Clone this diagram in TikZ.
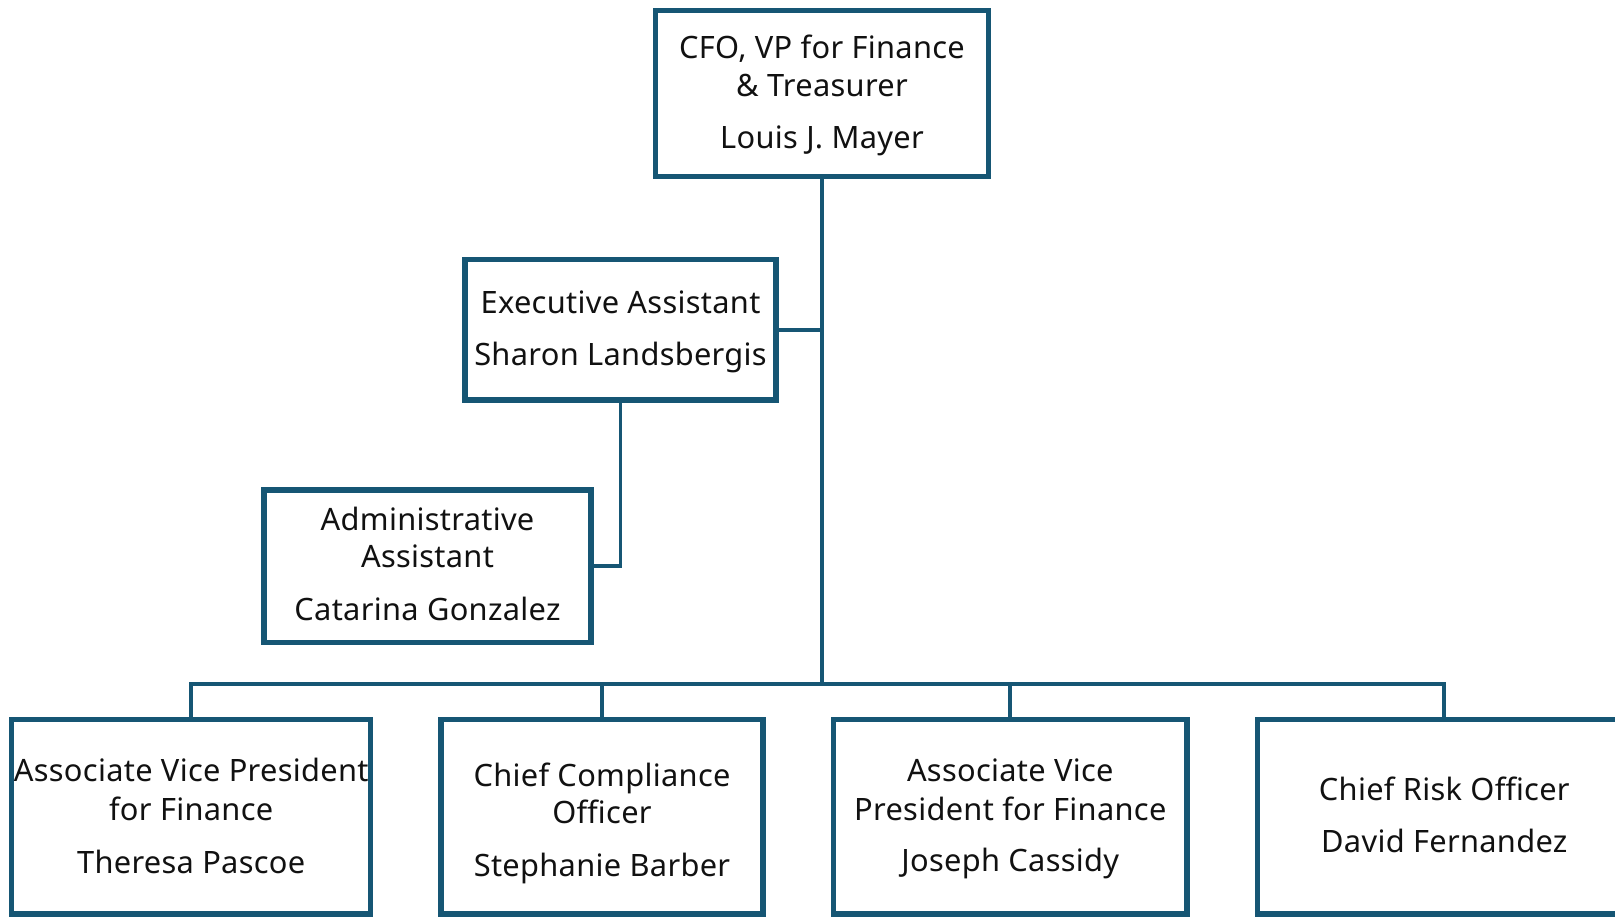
\documentclass[tikz,border=0pt]{standalone}
\usepackage{fontspec}
\setmainfont[LetterSpace=1.0]{Noto Sans}
\definecolor{boxblue}{RGB}{22,86,116}
\definecolor{txtblack}{RGB}{17,17,17}
\begin{document}
\begin{tikzpicture}[x=1pt,y=-1pt,
  orgbox/.style={draw=boxblue,line width=5.2pt,fill=white,rectangle,inner sep=0pt,outer sep=0pt},
  conn/.style={draw=boxblue,line width=3.9pt},
  lbl/.style={anchor=base,inner sep=0pt,outer sep=0pt,text=txtblack,font=\fontsize{30.8}{36}\selectfont}]
\useasboundingbox (0,0) rectangle (1615,917);
\clip (0,0) rectangle (1615,917);
% boxes
\node[orgbox,minimum width=333pt,minimum height=166pt] (top) at (822,93.5) {};
\node[orgbox,minimum width=311pt,minimum height=140.5pt] (exec) at (620.5,329.75) {};
\node[orgbox,minimum width=327pt,minimum height=152.5pt] (admin) at (427.5,566.25) {};
\node[orgbox,minimum width=358.7pt,minimum height=194.7pt] (b1) at (191.2,816.65) {};
\node[orgbox,minimum width=322pt,minimum height=194.7pt] (b2) at (602,816.65) {};
\node[orgbox,minimum width=353.5pt,minimum height=194.7pt] (b3) at (1010.3,816.65) {};
\node[orgbox,minimum width=373.5pt,minimum height=194.7pt] (b4) at (1444.3,816.65) {};
\coordinate (bus) at (822,684.3);
% connectors
\draw[conn] (top.south) -- (bus);
\draw[conn] (b1.north) |- (bus) -| (b4.north);
\draw[conn] (b2.north) -- (b2.north |- bus);
\draw[conn] (b3.north) -- (b3.north |- bus);
\draw[conn] (exec.east) -- (exec.east -| top.south);
\draw[conn] (exec.south) |- (admin.east);
% redraw box borders on top
\foreach \n in {top,exec,admin,b1,b2,b3,b4}{
  \draw[boxblue,line width=5.2pt] (\n.north west) rectangle (\n.south east);
}
% texts
\node[lbl] (t1) at (822,58.3) {CFO, VP for Finance};
\node[lbl] (t2) at (822,96.7) {\& Treasurer};
\node[lbl] (t3) at (822,148.3) {Louis J. Mayer};
\node[lbl] (e1) at (620.5,313.3) {Executive Assistant};
\node[lbl] (e2) at (620.5,366) {Sharon Landsbergis};
\node[lbl] (a1) at (427.5,530.7) {Administrative};
\node[lbl] (a2) at (427.5,567.3) {Assistant};
\node[lbl] (a3) at (427.5,620.7) {Catarina Gonzalez};
\node[lbl] (p1) at (191.2,781.7) {Associate Vice President};
\node[lbl] (p2) at (191.2,820) {for Finance};
\node[lbl] (p3) at (191.2,873.3) {Theresa Pascoe};
\node[lbl] (c1) at (602,786) {Chief Compliance};
\node[lbl] (c2) at (602,823.3) {Officer};
\node[lbl] (c3) at (602,876.7) {Stephanie Barber};
\node[lbl] (j1) at (1010.3,781.7) {Associate Vice};
\node[lbl] (j2) at (1010.3,820) {President for Finance};
\node[lbl] (j3) at (1010.3,871.7) {Joseph Cassidy};
\node[lbl] (r1) at (1444.3,800.7) {Chief Risk Officer};
\node[lbl] (r2) at (1444.3,852.3) {David Fernandez};
\end{tikzpicture}
\end{document}
